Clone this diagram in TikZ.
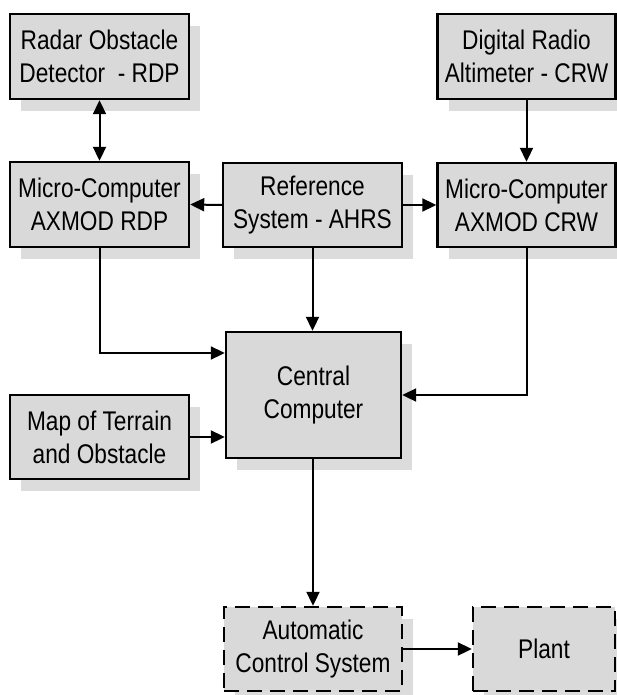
\documentclass[tikz,border=0pt]{standalone}
\usepackage{fontspec}
\setmainfont[FakeStretch=0.84]{Liberation Sans}
\usetikzlibrary{arrows.meta,shadows,calc}
\definecolor{boxfill}{HTML}{D9D9D9}
\definecolor{shadowfill}{HTML}{DCDCDC}
\begin{document}
\begin{tikzpicture}[x=1pt,y=-1pt,
  blk/.style={draw=black, line width=2.4pt, fill=boxfill, inner sep=0pt, align=center,
    minimum width=179pt, minimum height=85pt,
    font=\fontsize{27}{33}\selectfont,
    drop shadow={shadow xshift=11pt, shadow yshift=-12pt, fill=shadowfill, opacity=1}},
  dblk/.style={blk, dash pattern=on 15pt off 8pt},
  conn/.style={line width=2pt, -{Triangle[length=14pt,width=13pt]}},
  dconn/.style={line width=2pt, {Triangle[length=14pt,width=13pt]}-{Triangle[length=14pt,width=13pt]}}]
\useasboundingbox (0,0) rectangle (616,695);
\node[blk] (radar) at (99.5,56.5) {Radar Obstacle\\Detector\ \ - RDP};
\node[blk, minimum width=178pt] (digital) at (526.5,56.5) {Digital Radio\\Altimeter - CRW};
\node[blk] (micrdp) at (99.5,204.5) {Micro-Computer\\AXMOD RDP};
\node[blk, minimum width=179pt, minimum height=84pt] (ref) at (312.5,205) {Reference\\System - AHRS};
\node[blk, minimum width=178pt, minimum height=84pt] (miccrw) at (526.5,205) {Micro-Computer\\AXMOD CRW};
\node[blk, minimum width=175pt, minimum height=126pt] (central) at (313.5,395) {Central\\Computer};
\node[blk, minimum height=84pt] (map) at (99.5,437) {Map of Terrain\\and Obstacle};
\node[dblk, minimum width=178pt, minimum height=84pt] (acs) at (313,649) {Automatic\\Control System};
\node[dblk, minimum width=142pt, minimum height=84pt] (plant) at (544,649) {Plant};

\draw[dconn] (radar.south) -- (micrdp.north);
\draw[conn] (ref.west) -- (micrdp.east);
\draw[conn] (ref.east) -- (miccrw.west);
\draw[conn] (digital.south) -- (miccrw.north);
\draw[conn] (micrdp.south) |- ([yshift=42pt]central.west);
\draw[conn] (ref.south) -- (ref.south |- central.north);
\draw[conn] (miccrw.south) |- (central.east);
\draw[conn] (map.east) -- (map.east -| central.west);
\draw[conn] (central.south -| acs.north) -- (acs.north);
\draw[conn] (acs.east) -- (plant.west);
\end{tikzpicture}
\end{document}
